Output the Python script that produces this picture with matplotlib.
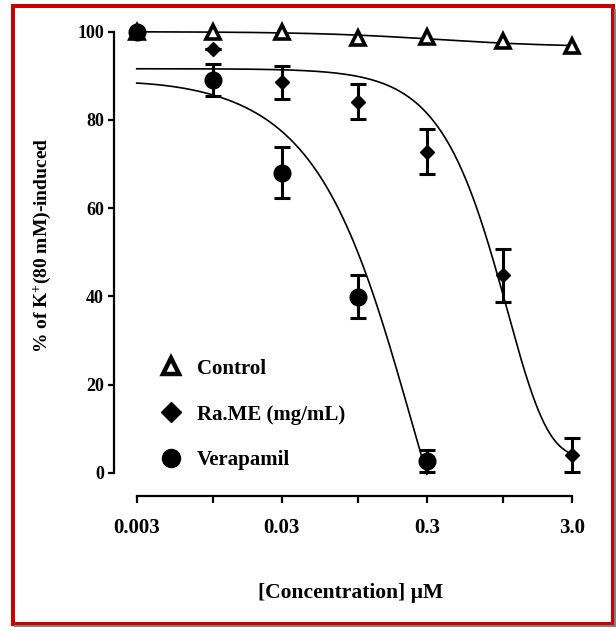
import numpy as np
import matplotlib
matplotlib.use("Agg")
import matplotlib.pyplot as plt
from matplotlib.lines import Line2D
from matplotlib.patches import Rectangle
from matplotlib.ticker import NullLocator

plt.rcParams['font.family'] = ['Liberation Serif', 'DejaVu Serif']
plt.rcParams['font.weight'] = 'bold'
plt.rcParams['mathtext.fontset'] = 'custom'
plt.rcParams['mathtext.rm'] = 'Liberation Serif:bold'
plt.rcParams['mathtext.bf'] = 'Liberation Serif:bold'
plt.rcParams['mathtext.it'] = 'Liberation Serif:bold'

# ---------------- data ----------------
conc = [0.003, 0.01, 0.03, 0.1, 0.3, 1.0, 3.0]
control = [100, 100, 100, 98.6, 98.8, 97.9, 96.7]

rame_conc = [0.003, 0.01, 0.03, 0.1, 0.3, 1.0, 3.0]
rame = [100, 96.1, 88.5, 84.1, 72.8, 44.8, 4.0]
rame_err = [0, 0, 3.8, 4.0, 5.1, 6.0, 3.8]

vera_conc = [0.003, 0.01, 0.03, 0.1, 0.3]
vera = [100, 89.0, 68.0, 39.9, 2.7]
vera_err = [0, 3.6, 5.8, 4.9, 2.5]

series_labels = ['Control', 'Ra.ME (mg/mL)', 'Verapamil']

xtick_vals = [0.003, 0.01, 0.03, 0.1, 0.3, 1.0, 3.0]
xtick_labels = ['0.003', '', '0.03', '', '0.3', '', '3.0']
ytick_vals = [0, 20, 40, 60, 80, 100]

# fitted-curve parameters: top, bottom, log10(IC50), hill, quadratic term, asymmetry
control_fit = (100.0, 96.5, -0.456, 1.0, 0.0, 1.0)
rame_fit = (91.6, 3.4, 0.740, 1.65, 0.0, 14.75)
vera_fit = (94.86, -50.4, -0.720, 1.35, 0.34, 1.0)
control_range = (0.003, 3.0)
rame_range = (0.003, 3.0)
vera_range = (0.003, 0.3)


def fitted(p, rng, n=300):
    T, B, lc, h, q, s = p
    x = np.logspace(np.log10(rng[0]), np.log10(rng[1]), n)
    d = np.log10(x) - lc
    return x, B + (T - B) / (1.0 + 10.0 ** (h * d + q * d ** 2)) ** s


# ---------------- figure ----------------
fig = plt.figure(figsize=(6.16, 6.28), dpi=100)
ax = fig.add_axes([114/616, 132/628, 476/616, 476/628])

ax.set_xscale('log')
ax.set_xlim(0.002091, 4.006)
ax.set_ylim(-5.28, 102.65)

for p, rng in [(control_fit, control_range), (rame_fit, rame_range), (vera_fit, vera_range)]:
    xs, ys = fitted(p, rng)
    ax.plot(xs, ys, color='black', lw=1.2, zorder=2)

ax.errorbar(rame_conc, rame, yerr=rame_err, fmt='none', ecolor='black',
            elinewidth=2.2, capsize=6, capthick=2.2, zorder=3, clip_on=False)
ax.errorbar(vera_conc, vera, yerr=vera_err, fmt='none', ecolor='black',
            elinewidth=2.2, capsize=6, capthick=2.2, zorder=3, clip_on=False)

ax.plot(conc, control, linestyle='none', marker='^', ms=10, mfc='white', mec='black',
        mew=2.6, zorder=4, clip_on=False)
ax.plot(rame_conc, rame, linestyle='none', marker='D', ms=7.5, color='black', zorder=5,
        clip_on=False)
ax.plot(vera_conc, vera, linestyle='none', marker='o', ms=12, color='black', zorder=6,
        clip_on=False)

for sp in ['top', 'right']:
    ax.spines[sp].set_visible(False)
ax.spines['left'].set_linewidth(1.6)
ax.spines['bottom'].set_linewidth(1.6)
ax.spines['left'].set_bounds(0, 100)
ax.spines['bottom'].set_bounds(0.003, 3.0)

ax.set_xticks(xtick_vals)
ax.set_xticklabels(xtick_labels)
ax.xaxis.set_minor_locator(NullLocator())
ax.set_yticks(ytick_vals)
ax.tick_params(axis='x', direction='out', length=5, width=1.6, pad=11, labelsize=15)
ax.tick_params(axis='y', direction='out', length=4.3, width=1.6, pad=3, labelsize=13)
for t in ax.get_xticklabels() + ax.get_yticklabels():
    t.set_fontweight('bold')

handles = [
    Line2D([], [], linestyle='none', marker='^', ms=11, mfc='white', mec='black', mew=3.2),
    Line2D([], [], linestyle='none', marker='D', ms=10, color='black'),
    Line2D([], [], linestyle='none', marker='o', ms=13, color='black'),
]
ax.legend(handles, series_labels, loc='upper left',
          bbox_to_anchor=(0.0979, 0.2887), borderaxespad=0, borderpad=0, frameon=False,
          handlelength=1.0, handletextpad=0.75, labelspacing=1.245,
          prop={'family': 'Liberation Serif', 'weight': 'bold', 'size': 15})

fig.text(351/616, 1 - 593/628, '[Concentration] µM', ha='center', va='center',
         fontsize=15.5, fontweight='bold')
fig.text(42/616, 1 - 245/628, '% of K$^{+}$(80 mM)-induced', ha='center', va='center',
         rotation=90, fontsize=14, fontweight='bold')

# red frame with grey shadow
fig.patches.append(Rectangle((13/616, 4.5/628), 600/616, 617.5/628, fill=False,
                             edgecolor='#c80000', lw=2.9, transform=fig.transFigure))
fig.add_artist(Line2D([15/616, 616/616], [1.8/628, 1.8/628], color='#808080', lw=1.4,
                      transform=fig.transFigure))
fig.add_artist(Line2D([615.3/616, 615.3/616], [1.8/628, 618/628], color='#808080', lw=1.4,
                      transform=fig.transFigure))

fig.savefig('out.png', dpi=100)
